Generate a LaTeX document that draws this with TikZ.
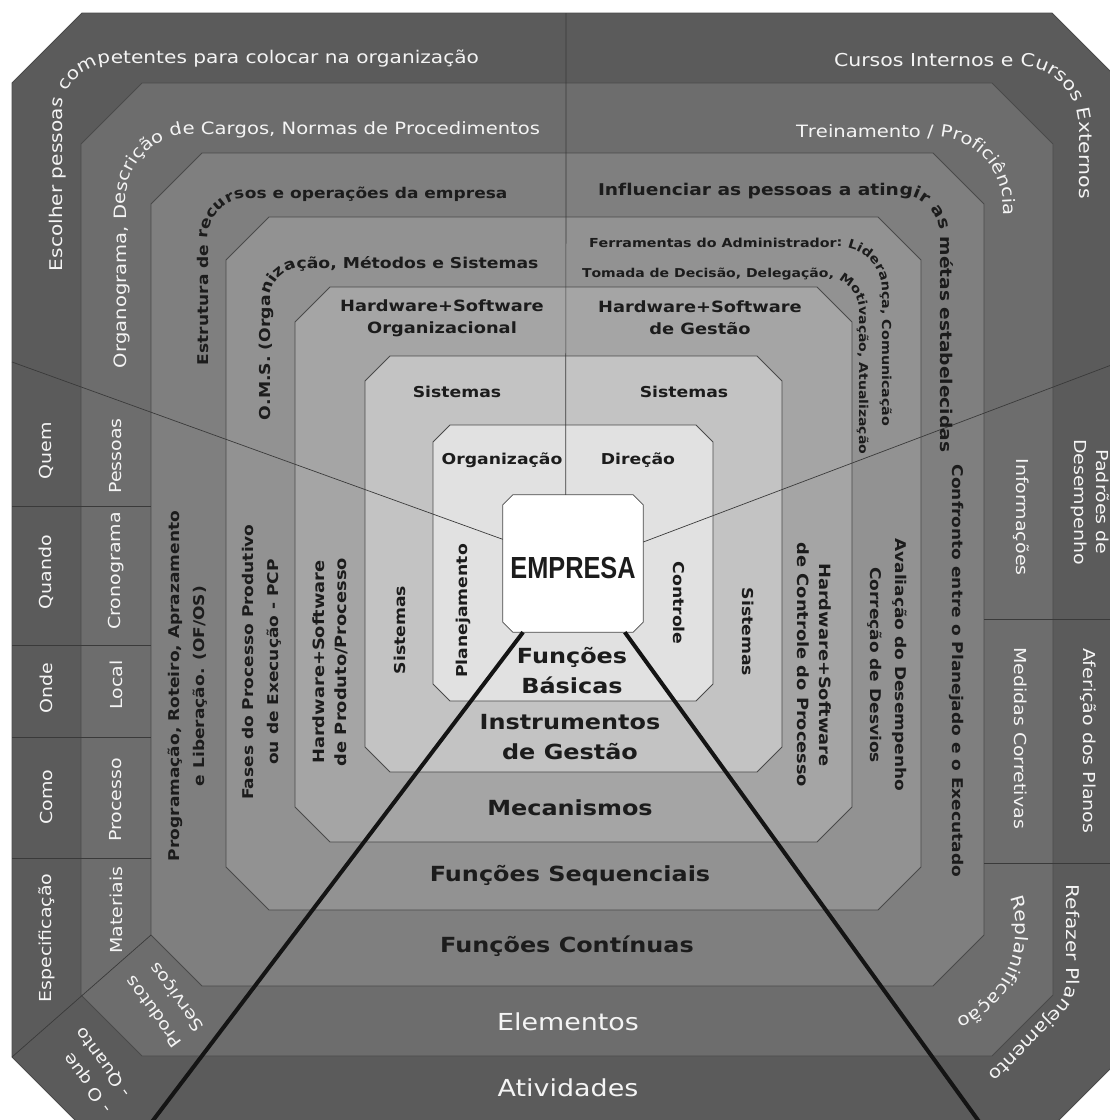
\documentclass[tikz,border=0pt]{standalone}
\usepackage{fontspec}
\usetikzlibrary{decorations.text}
\newfontfamily\labelfont[FakeStretch=1.15]{DejaVu Sans}
\newfontfamily\corefont[FakeStretch=0.83]{Liberation Sans}
\definecolor{ringA}{HTML}{5B5B5B}
\definecolor{ringB}{HTML}{6D6D6D}
\definecolor{ringC}{HTML}{7F7F7F}
\definecolor{ringD}{HTML}{929292}
\definecolor{ringE}{HTML}{A5A5A5}
\definecolor{ringF}{HTML}{C3C3C3}
\definecolor{ringG}{HTML}{E1E1E1}
\definecolor{ringedge}{HTML}{4A4A4A}
\definecolor{divline}{HTML}{3A3A3A}
\definecolor{labwhite}{HTML}{F4F4F4}
\definecolor{labdark}{HTML}{1C1C1C}
\definecolor{spoke}{HTML}{141414}
\begin{document}
\begin{tikzpicture}[x=1pt,y=1pt,
  ring/.style={draw=ringedge, line width=0.8pt},
  divider/.style={draw=divline, line width=0.7pt},
  spokeline/.style={draw=spoke, line width=4pt},
  coreframe/.style={rectangle, minimum width=140pt, minimum height=137pt, inner sep=0pt},
  corefill/.style={fill=white, draw=ringedge, line width=0.8pt},
  coretext/.style={text=labdark, inner sep=0pt, font=\corefont\bfseries\fontsize{30.5}{32}\selectfont},
  wl/.style={text=labwhite, inner sep=0pt, align=center, font=\labelfont\fontsize{16.5}{22}\selectfont},
  wlbig/.style={text=labwhite, inner sep=0pt, font=\labelfont\fontsize{23.4}{28}\selectfont},
  bl/.style={text=labdark, inner sep=0pt, align=center, font=\labelfont\bfseries\fontsize{15}{21}\selectfont},
  hw/.style={text=labdark, inner sep=0pt, align=center, font=\labelfont\bfseries\fontsize{15.5}{22}\selectfont},
  side/.style={text=labdark, inner sep=0pt, align=center, font=\labelfont\bfseries\fontsize{14.8}{25}\selectfont},
  big/.style={text=labdark, inner sep=0pt, align=center, font=\labelfont\bfseries\fontsize{20.8}{30}\selectfont},
  arctext/.style={decorate, decoration={text along path, text color=#1, text align=left}}
]
\useasboundingbox (0,0) rectangle (1110,-1120);
\clip (0,0) rectangle (1110,-1120);
\fill[white] (0,0) rectangle (1110,-1120);

% concentric chamfered rings, outermost first
\filldraw[ring, fill=ringA] (82,-13) -- (1052,-13) -- (1122,-83) -- (1122,-1057) -- (1052,-1127) -- (82,-1127) -- (12,-1057) -- (12,-83) -- cycle;
\filldraw[ring, fill=ringB] (142,-83) -- (992,-83) -- (1053,-144) -- (1053,-995) -- (992,-1056) -- (142,-1056) -- (81,-995) -- (81,-144) -- cycle;
\filldraw[ring, fill=ringC] (202,-153) -- (933,-153) -- (984,-204) -- (984,-935) -- (933,-986) -- (202,-986) -- (151,-935) -- (151,-204) -- cycle;
\filldraw[ring, fill=ringD] (269,-217) -- (878,-217) -- (921,-260) -- (921,-867) -- (878,-910) -- (269,-910) -- (226,-867) -- (226,-260) -- cycle;
\filldraw[ring, fill=ringE] (330,-287) -- (817,-287) -- (852,-322) -- (852,-807) -- (817,-842) -- (330,-842) -- (295,-807) -- (295,-322) -- cycle;
\filldraw[ring, fill=ringF] (390,-356) -- (757,-356) -- (782,-381) -- (782,-747) -- (757,-772) -- (390,-772) -- (365,-747) -- (365,-381) -- cycle;
\filldraw[ring, fill=ringG] (450,-425) -- (696,-425) -- (713,-442) -- (713,-684) -- (696,-701) -- (450,-701) -- (433,-684) -- (433,-442) -- cycle;

% centre block with cut corners
\node[coreframe] (empresa) at (573,-563.5) {};
\filldraw[corefill] ([xshift=10pt]empresa.north west) -- ([xshift=-10pt]empresa.north east)
  -- ([yshift=-10pt]empresa.north east) -- ([yshift=10pt]empresa.south east)
  -- ([xshift=-10pt]empresa.south east) -- ([xshift=10pt]empresa.south west)
  -- ([yshift=10pt]empresa.south west) -- ([yshift=-10pt]empresa.north west) -- cycle;
\node[coretext] (emptext) at (573,-568) {EMPRESA};

% cell borders of the side columns
\draw[divider] (12,-506) -- (151,-506);
\draw[divider] (12,-645) -- (151,-645);
\draw[divider] (12,-737) -- (151,-737);
\draw[divider] (12,-858) -- (151,-858);
\draw[divider] (12,-1057) -- (151,-935);
\draw[divider] (984,-619) -- (1122,-619);
\draw[divider] (984,-863) -- (1122,-863);

% sector dividers from the centre block
\coordinate (topend) at (566,-13);
\coordinate (westend) at (12,-362);
\coordinate (eastend) at (1122,-361);
\coordinate (swend) at (148,-1127);
\coordinate (seend) at (983,-1127);
\draw[divider] (empresa.96) -- (topend);
\draw[divider] (empresa.161) -- (westend);
\draw[divider] (empresa.17) -- (eastend);
\draw[spokeline] (empresa.234) -- (swend);
\draw[spokeline] (empresa.-53) -- (seend);

% text running round the corners
\path[arctext=labwhite, decoration={text={|\labelfont\fontsize{17.5}{20}\selectfont|Escolher pessoas competentes para colocar na organização}}]
  (62,-271) -- (62,-113) arc[start angle=180, end angle=90, radius=50] -- (650,-63);
\path[arctext=labwhite, decoration={text={|\labelfont\fontsize{17.8}{20}\selectfont|Cursos Internos e Cursos Externos}}]
  (834,-66) -- (1019,-66) arc[start angle=90, end angle=0, radius=60] -- (1079,-400);
\path[arctext=labwhite, decoration={text={|\labelfont\fontsize{17}{20}\selectfont|Organograma, Descrição de Cargos, Normas de Procedimentos}}]
  (126,-368) -- (126,-199) arc[start angle=180, end angle=90, radius=65] -- (700,-134);
\path[arctext=labwhite, decoration={text={|\labelfont\fontsize{17}{20}\selectfont|Treinamento / Proficiência}}]
  (796,-137) -- (935,-137) arc[start angle=90, end angle=0, radius=68] -- (1003,-400);
\path[arctext=labdark, decoration={text={|\labelfont\bfseries\fontsize{14.8}{18}\selectfont|Estrutura de recursos e operações da empresa}}]
  (208,-365) -- (208,-238) arc[start angle=180, end angle=90, radius=40] -- (700,-198);
\path[arctext=labdark, decoration={text={|\labelfont\bfseries\fontsize{16.2}{18}\selectfont|Influenciar as pessoas a atingir as métas estabelecidas}}]
  (598,-195) -- (900,-195) arc[start angle=90, end angle=0, radius=40] -- (940,-700);
\path[arctext=labdark, decoration={text={|\labelfont\bfseries\fontsize{15}{17}\selectfont|O.M.S. (Organização, Métodos e Sistemas}}]
  (270,-420) -- (270,-300) arc[start angle=180, end angle=90, radius=32] -- (700,-268);
\path[arctext=labdark, decoration={text={|\labelfont\bfseries\fontsize{12.4}{14}\selectfont|Ferramentas do Administrador: Liderança, Comunicação}}]
  (589,-247) -- (839,-247) arc[start angle=90, end angle=0, radius=43] -- (882,-700);
\path[arctext=labdark, decoration={text={|\labelfont\bfseries\fontsize{12.2}{14}\selectfont|Tomada de Decisão, Delegação, Motivação, Atualização}}]
  (582,-277) -- (825,-277) arc[start angle=90, end angle=0, radius=34] -- (859,-700);
\path[arctext=labwhite, decoration={text={|\labelfont\fontsize{17.5}{20}\selectfont|Replanificação}}]
  (1010.2,-897.2) arc[start angle=20, end angle=-90, radius=96];
\path[arctext=labwhite, decoration={text={|\labelfont\fontsize{17.5}{20}\selectfont|Refazer Planejamento}}]
  (1066,-884) -- (1066,-984) arc[start angle=0, end angle=-45, radius=30] -- ++(-130,-130);

% outer ring labels
\node[wl, rotate=90] (quem) at (46.5,-451) {Quem};
\node[wl, rotate=90] (quando) at (46.5,-572) {Quando};
\node[wl, rotate=90] (onde) at (46.5,-688) {Onde};
\node[wl, rotate=90] (como) at (46.5,-797) {Como};
\node[wl, rotate=90] (espec) at (46.5,-938) {Especificação};
\node[wl, rotate=126, anchor=west] (oque) at (109,-1111) {- O que};
\node[wl, rotate=126, anchor=west] (quanto) at (128,-1096) {- Quanto};
\node[wl, rotate=-90] (padroes) at (1090,-502) {Padrões de\\Desempenho};
\node[wl, rotate=-90] (afericao) at (1088,-741) {Aferição dos Planos};
\node[wlbig] (atividades) at (568,-1088) {Atividades};

% second ring labels
\node[wl, rotate=90] (pessoas) at (116,-456) {Pessoas};
\node[wl, rotate=90] (crono) at (116,-571) {Cronograma};
\node[wl, rotate=90] (local) at (116,-685) {Local};
\node[wl, rotate=90] (processo) at (116,-800) {Processo};
\node[wl, rotate=90] (materiais) at (116,-910) {Materiais};
\node[wl, rotate=126, anchor=west] (produtos) at (178,-1046) {Produtos};
\node[wl, rotate=126, anchor=west] (servicos) at (201,-1029) {Serviços};
\node[wl, rotate=-90] (info) at (1021,-517) {Informações};
\node[wl, rotate=-90] (medidas) at (1021,-738) {Medidas Corretivas};
\node[wlbig] (elementos) at (568,-1022) {Elementos};

% third ring labels
\node[side, rotate=90] (prog) at (188,-686) {Programação, Roteiro, Aprazamento\\e Liberação. (OF/OS)};
\node[side, rotate=-90] (confronto) at (957,-671) {Confronto entre o Planejado e o Executado};
\node[big] (continuas) at (567,-946) {Funções Contínuas};

% fourth ring labels
\node[side, rotate=90] (fases) at (262,-662) {Fases do Processo Produtivo\\ou de Execução - PCP};
\node[side, rotate=-90] (avalia) at (887,-665) {Avaliação do Desempenho\\Correção de Desvios};
\node[big] (sequ) at (570,-876) {Funções Sequenciais};

% fifth ring labels
\node[hw] (hwA) at (442,-318) {Hardware+Software\\Organizacional};
\node[hw] (hwB) at (700,-318) {Hardware+Software\\de Gestão};
\node[hw, rotate=90] (hwC) at (330,-662) {Hardware+Software\\de Produto/Processo};
\node[hw, rotate=-90] (hwD) at (814,-665) {Hardware+Software\\de Controle do Processo};
\node[big] (mecan) at (570,-808) {Mecanismos};

% sixth ring labels
\node[bl] (sisA) at (457,-392) {Sistemas};
\node[bl] (sisB) at (684,-392) {Sistemas};
\node[bl, rotate=90] (sisC) at (400,-630) {Sistemas};
\node[bl, rotate=-90] (sisD) at (748,-632) {Sistemas};
\node[big] (instr) at (570,-737) {Instrumentos\\de Gestão};

% innermost ring labels
\node[bl] (orgz) at (502,-460) {Organização};
\node[bl] (direcao) at (638,-460) {Direção};
\node[bl, rotate=90] (planej) at (463,-611) {Planejamento};
\node[bl, rotate=-90] (controle) at (679,-603) {Controle};
\node[big] (basicas) at (572,-671) {Funções\\Básicas};
\end{tikzpicture}
\end{document}
